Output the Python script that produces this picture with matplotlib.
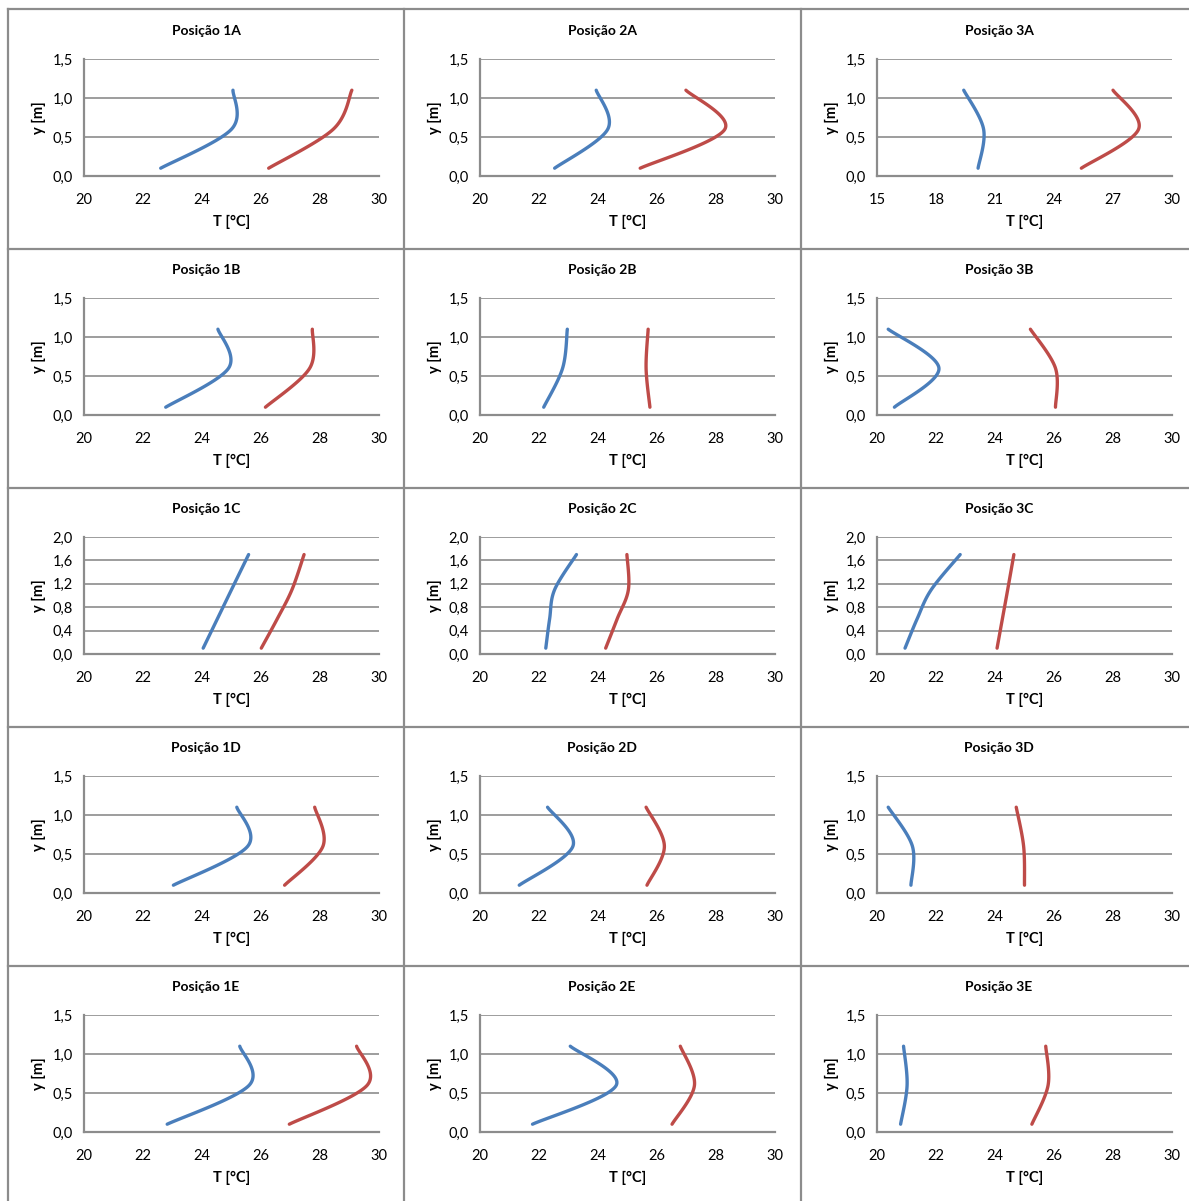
import numpy as np
import matplotlib
matplotlib.use("Agg")
import matplotlib.pyplot as plt
from matplotlib.lines import Line2D
from matplotlib.ticker import FuncFormatter

plt.rcParams['font.family'] = ['Lato', 'DejaVu Sans']

# ---------------- data ----------------
positions = [["1A", "2A", "3A"],
             ["1B", "2B", "3B"],
             ["1C", "2C", "3C"],
             ["1D", "2D", "3D"],
             ["1E", "2E", "3E"]]

heights_seated = [0.1, 0.6, 1.1]
heights_standing = [0.1, 0.6, 1.1, 1.7]

blue_T = {
    "1A": [22.60, 25.00, 25.05],
    "2A": [22.53, 24.33, 23.94],
    "3A": [20.14, 20.42, 19.41],
    "1B": [22.77, 24.90, 24.54],
    "2B": [22.16, 22.80, 22.96],
    "3B": [20.59, 22.10, 20.38],
    "1C": [24.04, 24.52, 25.00, 25.58],
    "2C": [22.23, 22.36, 22.53, 23.27],
    "3C": [20.95, 21.36, 21.84, 22.82],
    "1D": [23.03, 25.55, 25.18],
    "2D": [21.33, 23.15, 22.29],
    "3D": [21.15, 21.20, 20.38],
    "1E": [22.82, 25.60, 25.28],
    "2E": [21.78, 24.62, 23.06],
    "3E": [20.80, 21.02, 20.90],
}

red_T = {
    "1A": [26.26, 28.45, 29.08],
    "2A": [25.43, 28.30, 26.98],
    "3A": [25.39, 28.30, 27.00],
    "1B": [26.15, 27.65, 27.74],
    "2B": [25.76, 25.63, 25.70],
    "3B": [26.05, 26.05, 25.20],
    "1C": [26.01, 26.55, 27.05, 27.46],
    "2C": [24.26, 24.65, 25.03, 24.98],
    "3C": [24.07, 24.25, 24.43, 24.64],
    "1D": [26.80, 28.10, 27.82],
    "2D": [25.66, 26.25, 25.63],
    "3D": [25.00, 24.97, 24.72],
    "1E": [26.96, 29.60, 29.24],
    "2E": [26.51, 27.27, 26.79],
    "3E": [25.25, 25.80, 25.72],
}

x_ticks_default = [20, 22, 24, 26, 28, 30]
x_ticks_3A = [15, 18, 21, 24, 27, 30]
y_ticks_seated = [0.0, 0.5, 1.0, 1.5]
y_ticks_standing = [0.0, 0.4, 0.8, 1.2, 1.6, 2.0]

title_prefix = "Posição "
x_label = "T [°C]"
y_label = "y [m]"

BLUE = "#4A7EBB"
RED = "#BE4B48"
GRID = "#8C8C8C"
BORDER = "#8C8C8C"


def smooth_curve(xs, ys, n=40):
    """Excel-like smoothed line (Catmull-Rom Bezier) through the data points."""
    P = np.column_stack([xs, ys]).astype(float)
    P = np.vstack([P[0], P, P[-1]])
    out = []
    t = np.linspace(0, 1, n)[:, None]
    for i in range(1, len(P) - 2):
        p0, p1, p2, p3 = P[i - 1], P[i], P[i + 1], P[i + 2]
        c1 = p1 + (p2 - p0) / 6.0
        c2 = p2 - (p3 - p1) / 6.0
        seg = ((1 - t) ** 3) * p1 + 3 * ((1 - t) ** 2) * t * c1 \
            + 3 * (1 - t) * (t ** 2) * c2 + (t ** 3) * p2
        out.append(seg if i == 1 else seg[1:])
    return np.vstack(out)


W, H = 1189, 1201
fig = plt.figure(figsize=(W / 100, H / 100), dpi=100)
fig.patch.set_facecolor("white")

col_left = [8, 404, 801]
row_top = [10, 249, 488, 727, 966]
ax_dx, ax_dy, ax_w, ax_h = 76, 49, 295, 117

comma = FuncFormatter(lambda v, p: f"{v:.1f}".replace(".", ","))

for r, row in enumerate(positions):
    for c, pos in enumerate(row):
        left = col_left[c] + ax_dx
        top = row_top[r] + ax_dy
        ax = fig.add_axes([left / W, 1 - (top + ax_h) / H, ax_w / W, ax_h / H])
        standing = pos.endswith("C")
        hs = heights_standing if standing else heights_seated
        b = smooth_curve(blue_T[pos], hs)
        rd = smooth_curve(red_T[pos], hs)
        ax.plot(b[:, 0], b[:, 1], color=BLUE, lw=2.4, solid_capstyle="round", zorder=3)
        ax.plot(rd[:, 0], rd[:, 1], color=RED, lw=2.4, solid_capstyle="round", zorder=3)

        xt = x_ticks_3A if pos == "3A" else x_ticks_default
        yt = y_ticks_standing if standing else y_ticks_seated
        ax.set_xlim(xt[0], xt[-1])
        ax.set_ylim(yt[0], yt[-1])
        ax.set_xticks(xt)
        ax.set_yticks(yt)
        ax.yaxis.set_major_formatter(comma)
        ax.tick_params(axis="both", length=0, labelsize=10.5, colors="black")
        ax.tick_params(axis="x", pad=12)
        ax.tick_params(axis="y", pad=8)
        for s in ["top", "right"]:
            ax.spines[s].set_visible(False)
        for s in ["left", "bottom"]:
            ax.spines[s].set_color(GRID)
            ax.spines[s].set_linewidth(1.6)
        ax.grid(axis="y", color=GRID, lw=1.2)
        ax.set_axisbelow(True)
        ax.set_xlabel(x_label, fontsize=10.5, fontweight="bold", labelpad=6)
        ax.set_ylabel(y_label, fontsize=10.5, fontweight="bold", labelpad=5)
        fig.text((col_left[c] + 198) / W, 1 - (row_top[r] + 21) / H,
                 title_prefix + pos, ha="center", va="center",
                 fontsize=10, fontweight="bold")

# cell borders
for x in [8, 404, 801]:
    fig.add_artist(Line2D([x / W, x / W], [0, 1 - 9 / H], color=BORDER, lw=1.6))
for y in [9, 249, 488, 727, 966]:
    fig.add_artist(Line2D([8 / W, 1], [1 - y / H, 1 - y / H], color=BORDER, lw=1.6))

fig.savefig("out.png", dpi=100, facecolor="white")
